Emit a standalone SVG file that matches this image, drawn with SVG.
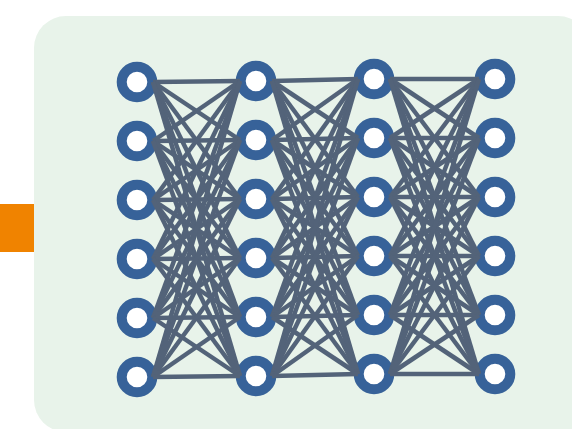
<svg xmlns="http://www.w3.org/2000/svg" width="572" height="429" viewBox="0 0 572 429">
<style>
.bg{fill:#e8f3ea}
.tab{fill:#f08300}
.n{fill:#ffffff;stroke:#376299;stroke-width:10}
.c line{stroke:#536379;stroke-width:4.5;stroke-linecap:butt}
</style>
<rect width="572" height="429" fill="#ffffff"/>
<rect class="bg" x="34" y="16" width="556" height="416" rx="32"/>
<rect class="tab" x="0" y="204" width="34" height="48"/>
<g id="nodes">
<g id="n1_1"><circle class="n" cx="137" cy="82" r="15.3"/></g>
<g id="n1_2"><circle class="n" cx="137" cy="141" r="15.3"/></g>
<g id="n1_3"><circle class="n" cx="137" cy="200" r="15.3"/></g>
<g id="n1_4"><circle class="n" cx="137" cy="259" r="15.3"/></g>
<g id="n1_5"><circle class="n" cx="137" cy="318" r="15.3"/></g>
<g id="n1_6"><circle class="n" cx="137" cy="377" r="15.3"/></g>
<g id="n2_1"><circle class="n" cx="256" cy="81" r="15.3"/></g>
<g id="n2_2"><circle class="n" cx="256" cy="140" r="15.3"/></g>
<g id="n2_3"><circle class="n" cx="256" cy="199" r="15.3"/></g>
<g id="n2_4"><circle class="n" cx="256" cy="258" r="15.3"/></g>
<g id="n2_5"><circle class="n" cx="256" cy="317" r="15.3"/></g>
<g id="n2_6"><circle class="n" cx="256" cy="376" r="15.3"/></g>
<g id="n3_1"><circle class="n" cx="374" cy="79" r="15.3"/></g>
<g id="n3_2"><circle class="n" cx="374" cy="138" r="15.3"/></g>
<g id="n3_3"><circle class="n" cx="374" cy="197" r="15.3"/></g>
<g id="n3_4"><circle class="n" cx="374" cy="256" r="15.3"/></g>
<g id="n3_5"><circle class="n" cx="374" cy="315" r="15.3"/></g>
<g id="n3_6"><circle class="n" cx="374" cy="374" r="15.3"/></g>
<g id="n4_1"><circle class="n" cx="495" cy="79" r="15.3"/></g>
<g id="n4_2"><circle class="n" cx="495" cy="138" r="15.3"/></g>
<g id="n4_3"><circle class="n" cx="495" cy="197" r="15.3"/></g>
<g id="n4_4"><circle class="n" cx="495" cy="256" r="15.3"/></g>
<g id="n4_5"><circle class="n" cx="495" cy="315" r="15.3"/></g>
<g id="n4_6"><circle class="n" cx="495" cy="374" r="15.3"/></g>
</g>
<g id="connectors" class="c">
<line x1="153" y1="82" x2="240" y2="81"/><line x1="153" y1="82" x2="240" y2="140"/><line x1="153" y1="82" x2="240" y2="199"/><line x1="153" y1="82" x2="240" y2="258"/><line x1="153" y1="82" x2="240" y2="317"/><line x1="153" y1="82" x2="240" y2="376"/>
<line x1="153" y1="141" x2="240" y2="81"/><line x1="153" y1="141" x2="240" y2="140"/><line x1="153" y1="141" x2="240" y2="199"/><line x1="153" y1="141" x2="240" y2="258"/><line x1="153" y1="141" x2="240" y2="317"/><line x1="153" y1="141" x2="240" y2="376"/>
<line x1="153" y1="200" x2="240" y2="81"/><line x1="153" y1="200" x2="240" y2="140"/><line x1="153" y1="200" x2="240" y2="199"/><line x1="153" y1="200" x2="240" y2="258"/><line x1="153" y1="200" x2="240" y2="317"/><line x1="153" y1="200" x2="240" y2="376"/>
<line x1="153" y1="259" x2="240" y2="81"/><line x1="153" y1="259" x2="240" y2="140"/><line x1="153" y1="259" x2="240" y2="199"/><line x1="153" y1="259" x2="240" y2="258"/><line x1="153" y1="259" x2="240" y2="317"/><line x1="153" y1="259" x2="240" y2="376"/>
<line x1="153" y1="318" x2="240" y2="81"/><line x1="153" y1="318" x2="240" y2="140"/><line x1="153" y1="318" x2="240" y2="199"/><line x1="153" y1="318" x2="240" y2="258"/><line x1="153" y1="318" x2="240" y2="317"/><line x1="153" y1="318" x2="240" y2="376"/>
<line x1="153" y1="377" x2="240" y2="81"/><line x1="153" y1="377" x2="240" y2="140"/><line x1="153" y1="377" x2="240" y2="199"/><line x1="153" y1="377" x2="240" y2="258"/><line x1="153" y1="377" x2="240" y2="317"/><line x1="153" y1="377" x2="240" y2="376"/>
<line x1="272" y1="81" x2="358" y2="79"/><line x1="272" y1="81" x2="358" y2="138"/><line x1="272" y1="81" x2="358" y2="197"/><line x1="272" y1="81" x2="358" y2="256"/><line x1="272" y1="81" x2="358" y2="315"/><line x1="272" y1="81" x2="358" y2="374"/>
<line x1="272" y1="140" x2="358" y2="79"/><line x1="272" y1="140" x2="358" y2="138"/><line x1="272" y1="140" x2="358" y2="197"/><line x1="272" y1="140" x2="358" y2="256"/><line x1="272" y1="140" x2="358" y2="315"/><line x1="272" y1="140" x2="358" y2="374"/>
<line x1="272" y1="199" x2="358" y2="79"/><line x1="272" y1="199" x2="358" y2="138"/><line x1="272" y1="199" x2="358" y2="197"/><line x1="272" y1="199" x2="358" y2="256"/><line x1="272" y1="199" x2="358" y2="315"/><line x1="272" y1="199" x2="358" y2="374"/>
<line x1="272" y1="258" x2="358" y2="79"/><line x1="272" y1="258" x2="358" y2="138"/><line x1="272" y1="258" x2="358" y2="197"/><line x1="272" y1="258" x2="358" y2="256"/><line x1="272" y1="258" x2="358" y2="315"/><line x1="272" y1="258" x2="358" y2="374"/>
<line x1="272" y1="317" x2="358" y2="79"/><line x1="272" y1="317" x2="358" y2="138"/><line x1="272" y1="317" x2="358" y2="197"/><line x1="272" y1="317" x2="358" y2="256"/><line x1="272" y1="317" x2="358" y2="315"/><line x1="272" y1="317" x2="358" y2="374"/>
<line x1="272" y1="376" x2="358" y2="79"/><line x1="272" y1="376" x2="358" y2="138"/><line x1="272" y1="376" x2="358" y2="197"/><line x1="272" y1="376" x2="358" y2="256"/><line x1="272" y1="376" x2="358" y2="315"/><line x1="272" y1="376" x2="358" y2="374"/>
<line x1="390" y1="79" x2="479" y2="79"/><line x1="390" y1="79" x2="479" y2="138"/><line x1="390" y1="79" x2="479" y2="197"/><line x1="390" y1="79" x2="479" y2="256"/><line x1="390" y1="79" x2="479" y2="315"/><line x1="390" y1="79" x2="479" y2="374"/>
<line x1="390" y1="138" x2="479" y2="79"/><line x1="390" y1="138" x2="479" y2="138"/><line x1="390" y1="138" x2="479" y2="197"/><line x1="390" y1="138" x2="479" y2="256"/><line x1="390" y1="138" x2="479" y2="315"/><line x1="390" y1="138" x2="479" y2="374"/>
<line x1="390" y1="197" x2="479" y2="79"/><line x1="390" y1="197" x2="479" y2="138"/><line x1="390" y1="197" x2="479" y2="197"/><line x1="390" y1="197" x2="479" y2="256"/><line x1="390" y1="197" x2="479" y2="315"/><line x1="390" y1="197" x2="479" y2="374"/>
<line x1="390" y1="256" x2="479" y2="79"/><line x1="390" y1="256" x2="479" y2="138"/><line x1="390" y1="256" x2="479" y2="197"/><line x1="390" y1="256" x2="479" y2="256"/><line x1="390" y1="256" x2="479" y2="315"/><line x1="390" y1="256" x2="479" y2="374"/>
<line x1="390" y1="315" x2="479" y2="79"/><line x1="390" y1="315" x2="479" y2="138"/><line x1="390" y1="315" x2="479" y2="197"/><line x1="390" y1="315" x2="479" y2="256"/><line x1="390" y1="315" x2="479" y2="315"/><line x1="390" y1="315" x2="479" y2="374"/>
<line x1="390" y1="374" x2="479" y2="79"/><line x1="390" y1="374" x2="479" y2="138"/><line x1="390" y1="374" x2="479" y2="197"/><line x1="390" y1="374" x2="479" y2="256"/><line x1="390" y1="374" x2="479" y2="315"/><line x1="390" y1="374" x2="479" y2="374"/>
</g>
</svg>
